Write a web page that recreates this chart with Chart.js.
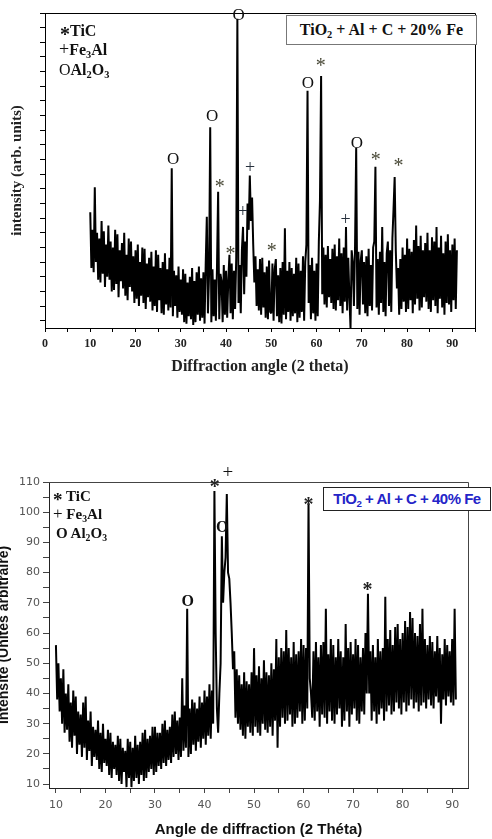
<!DOCTYPE html>
<html><head><meta charset="utf-8">
<script src="https://cdn.jsdelivr.net/npm/chart.js"></script>
<style>
html,body{margin:0;padding:0;background:#fff;}
body{width:492px;height:839px;position:relative;overflow:hidden;}
canvas{position:absolute;left:0;}
#c1{top:0;}
#c2{top:380px;}
.serif{position:absolute;font-family:"Liberation Serif","Times New Roman",serif;font-weight:bold;color:#111;white-space:nowrap;}
.box1{position:absolute;left:286px;top:15px;width:189px;height:28px;border:1px solid #777;background:#fff;
  font-family:"Liberation Serif","Times New Roman",serif;font-weight:bold;font-size:16px;line-height:28px;text-align:center;color:#111;white-space:nowrap;}
.box2{position:absolute;left:323px;top:487px;width:166px;height:22px;border:1px solid #222;background:#fff;
  font-family:"Liberation Sans",Arial,sans-serif;font-weight:bold;font-size:15px;line-height:22px;text-align:center;color:#2424c8;letter-spacing:-0.5px;white-space:nowrap;}
sub{font-size:65%;vertical-align:-0.3em;line-height:0;}
.sym{display:inline-block;}
</style></head>
<body>
<canvas id="c1" width="492" height="380"></canvas>
<canvas id="c2" width="492" height="459"></canvas>

<div class="serif" style="left:60px;top:19px;font-size:16px;line-height:20px;"><span class="sym" style="font-size:20px;position:relative;top:5px;">*</span>TiC</div>
<div class="serif" style="left:59px;top:39px;font-size:16px;line-height:20px;"><span class="sym" style="font-weight:normal;font-size:18px;">+</span>Fe<sub>3</sub>Al</div>
<div class="serif" style="left:59px;top:60px;font-size:16px;line-height:20px;"><span class="sym" style="font-weight:normal;">O</span>Al<sub>2</sub>O<sub>3</sub></div>
<div class="box1">TiO<sub>2</sub> + Al + C + 20% Fe</div>

<div class="serif" style="left:53px;top:486px;font-size:15px;line-height:18px;"><span class="sym" style="font-size:19px;position:relative;top:5px;">*</span> TiC</div>
<div class="serif" style="left:53px;top:505px;font-size:15px;line-height:18px;"><span class="sym" style="font-weight:normal;font-size:17px;">+</span> Fe<sub>3</sub>Al</div>
<div class="serif" style="left:56px;top:524px;font-size:15px;line-height:18px;">O Al<sub>2</sub>O<sub>3</sub></div>
<div class="box2">TiO<sub>2</sub> + Al + C + 40% Fe</div>

<script>
// ---------- DATA ----------
const angleStep = 0.25;              // degrees between recorded points (2 theta)
const topAngleStart = 10;            // first angle of the 20% Fe pattern
const botAngleStart = 10;            // first angle of the 40% Fe pattern

// 20% Fe pattern, intensity (arb. units), one row per degree (4 points)
const topIntensity = [
 84,46,72,43,  101,50,70,38,  66,36,78,42,  71,33,62,40,  75,38,64,30,
 60,31,72,35,  69,26,58,37,   63,32,70,27,  55,24,66,33,  64,30,54,22,
 58,25,62,20,  50,27,60,22,   59,18,49,26,  53,23,57,17,  47,20,58,16,
 55,24,46,15,  50,14,56,21,   45,17,53,19,  114,13,44,20, 41,12,47,16,
 38,14,45,9,   42,8,36,13,    40,11,46,7,   37,9,43,14,   47,10,39,12,
 43,8,48,81,   15,42,142,9,   45,13,38,10,  47,98,11,42,  37,9,48,14,
 44,12,38,55,  15,49,11,44,   18,53,216,22, 48,15,58,74,  28,64,40,90,
 72,109,78,94, 62,36,54,20,   45,17,52,14,  53,19,43,12,  47,11,51,16,
 15,49,10,45,  52,13,41,9,    46,8,50,14,   73,11,44,16,  50,10,46,13,
 42,15,53,9,   49,12,44,16,   54,10,50,62,  167,22,48,11, 53,15,44,10,
 49,13,64,92,  177,28,60,21,  55,19,61,26,  52,22,59,18,  62,17,54,24,
 66,20,56,15,  60,23,74,17,   53,26,5,58,   50,20,61,128, 18,57,14,51,
 58,21,50,15,  54,13,59,20,   48,17,60,64,  115,19,52,14, 57,22,74,16,
 50,13,56,64,  20,58,16,66,   86,108,58,32, 46,14,52,18,  60,23,55,16,
 66,18,59,24,  57,15,65,21,   75,25,61,17,  68,19,58,26,  63,23,70,18,
 58,16,67,24,  64,20,74,15,   60,25,68,19,  56,14,64,22,  69,21,58,16,
 62,24,66,18,  58
];

// 40% Fe pattern, intensity (unites arbitraires), one row per degree (4 points)
const botIntensity = [
 56,38,50,34,  45,30,48,27,  40,28,43,24,  37,22,41,26,  39,20,34,23,
 33,19,37,22,  39,18,31,21,  34,16,29,19,  28,18,31,15,  27,14,30,17,
 25,16,28,13,  27,12,24,15,  23,13,26,11,  25,10,22,14,  21,9,25,12,
 24,9,22,11,   26,12,23,10,  24,13,27,11,  28,12,25,14,  26,15,29,13,
 29,14,27,16,  27,15,30,17,  31,16,28,18,  29,17,33,19,  34,20,31,18,
 32,19,45,21,  36,22,68,19,  35,20,38,23,  37,21,35,24,  39,22,37,25,
 41,23,39,26,  43,25,41,30,  107,60,35,27, 40,50,92,70,  80,85,106,80,
 78,70,60,48,  54,32,48,30,  46,28,43,26,  47,25,44,29,  43,27,47,26,
 55,29,46,27,  49,26,45,30,  51,28,47,27,  46,29,50,26,  48,31,58,22,
 52,29,55,32,  54,30,61,31,  55,33,52,29,  57,30,53,32,  54,34,58,30,
 56,31,55,35,  103,45,40,32, 54,31,57,34,  52,29,56,33,  57,32,68,30,
 53,34,58,31,  56,30,52,33,  58,35,54,29,  52,31,63,34,  55,29,57,33,
 53,35,58,31,  56,30,52,34,  55,33,60,40,  73,40,54,31,  56,34,52,30,
 58,33,54,35,  55,31,72,34,  58,36,61,33,  56,34,62,37,  63,35,58,33,
 60,37,64,34,  62,36,67,38,  65,35,60,37,  59,34,63,36,  68,37,58,35,
 56,38,59,36,  57,35,54,39,  59,37,55,30,  53,38,58,36,  56,39,54,37,
 58,36,68,38
];

// x tick labels
const topXTicks = [0,10,20,30,40,50,60,70,80,90];
const botXTicks = [10,20,30,40,50,60,70,80,90];
const botYTicks = [10,20,30,40,50,60,70,80,90,100,110];

// phase markers: angle, level (where the symbol sits), symbol
const topMarkAngles = [28.3, 36.9, 38.6, 41.0, 42.8, 43.7, 45.3, 50.1, 58.1, 60.9, 66.4, 68.9, 73.1, 78.1];
const topMarkLevels = [119.7, 149, 103.3, 57.6, 218, 84, 114, 59.6, 172, 186, 78.7, 131, 122, 117.6];
const topMarkSyms   = ['O','O','*','*','O','+','+','*','O','*','+','O','*','*'];

const botMarkAngles = [36.6, 42.06, 43.6, 44.7, 61.0, 72.9];
const botMarkLevels = [70.3, 109.3, 94.8, 113, 103.4, 75.2];
const botMarkSyms   = ['O','*','O','+','*','*'];

// ---------- CHARTS ----------
function toPoints(start, vals){ return vals.map((v,i)=>({x:start + i*angleStep, y:v})); }

const framePlugin = {
  id:'frame',
  afterDraw(chart, args, opts){
    const {ctx, chartArea:a} = chart;
    ctx.save();
    ctx.strokeStyle = opts.color || '#000';
    ctx.lineWidth = 1;
    ctx.beginPath();
    ctx.moveTo(a.left, a.top+0.5); ctx.lineTo(a.right+0.5, a.top+0.5);
    ctx.lineTo(a.right+0.5, a.bottom);
    ctx.stroke();
    ctx.restore();
  }
};
const markPlugin = {
  id:'peakMarks',
  afterDraw(chart, args, opts){
    const {ctx} = chart;
    const xs = chart.scales.x, ys = chart.scales.y;
    ctx.save();
    ctx.textAlign = 'center';
    ctx.textBaseline = 'middle';
    opts.angles.forEach((ang,i)=>{
      const s = opts.syms[i];
      const st = opts.styles[s];
      ctx.font = st.font;
      ctx.fillStyle = st.color;
      ctx.fillText(s, xs.getPixelForValue(ang), ys.getPixelForValue(opts.levels[i]) + st.dy);
    });
    ctx.restore();
  }
};

const serif = '"Liberation Serif","Times New Roman",serif';
const sans = '"Liberation Sans",Arial,sans-serif';

new Chart(document.getElementById('c1'), {
  type:'line',
  data:{datasets:[{data:toPoints(topAngleStart, topIntensity), borderColor:'#000', borderWidth:2, borderJoinStyle:'bevel', pointRadius:0, tension:0, fill:false}]},
  options:{
    responsive:false, animation:false, devicePixelRatio:1, parsing:false,
    layout:{padding:{left:0, top:13, right:17, bottom:0}},
    plugins:{legend:{display:false}, tooltip:{enabled:false},
      frame:{color:'#000'},
      peakMarks:{angles:topMarkAngles, levels:topMarkLevels, syms:topMarkSyms,
        styles:{'O':{font:'17px '+serif, color:'#111', dy:0},
                '*':{font:'20px '+serif, color:'#4a4a38', dy:4},
                '+':{font:'18px '+serif, color:'#26303c', dy:0}}}},
    scales:{
      x:{type:'linear', min:0, max:95,
        afterFit(s){ s.height = 52; },
        border:{color:'#000', width:1},
        grid:{drawOnChartArea:false, drawTicks:true, tickLength:4, color:'#000'},
        ticks:{stepSize:5, autoSkip:false, maxRotation:0, padding:5, color:'#222',
          font:{family:serif, weight:'bold', size:12},
          callback:v=> topXTicks.includes(v) ? String(v) : ''},
        title:{display:true, text:'Diffraction angle (2 theta)', color:'#222',
          font:{family:serif, weight:'bold', size:16, lineHeight:1.2}, padding:{top:0,bottom:4}}},
      y:{type:'linear', min:5, max:220,
        afterFit(s){ s.width = 45; },
        border:{color:'#000', width:1},
        grid:{drawOnChartArea:false, drawTicks:true, tickLength:5, color:'#000'},
        ticks:{stepSize:10, includeBounds:false, autoSkip:false, padding:0, callback:()=>''},
        title:{display:true, text:'intensity (arb. units)', color:'#222',
          font:{family:serif, weight:'bold', size:15, lineHeight:1.2}, padding:{top:8,bottom:0}}}
    }
  },
  plugins:[framePlugin, markPlugin]
});

new Chart(document.getElementById('c2'), {
  type:'line',
  data:{datasets:[{data:toPoints(botAngleStart, botIntensity), borderColor:'#000', borderWidth:2, borderJoinStyle:'bevel', pointRadius:0, tension:0, fill:false}]},
  options:{
    responsive:false, animation:false, devicePixelRatio:1, parsing:false,
    layout:{padding:{left:0, top:102, right:24, bottom:0}},
    plugins:{legend:{display:false}, tooltip:{enabled:false},
      frame:{color:'#444'},
      peakMarks:{angles:botMarkAngles, levels:botMarkLevels, syms:botMarkSyms,
        styles:{'O':{font:'bold 16px '+serif, color:'#111', dy:0},
                '*':{font:'bold 20px '+serif, color:'#222', dy:4},
                '+':{font:'19px '+serif, color:'#111', dy:0}}}},
    scales:{
      x:{type:'linear', min:8.6, max:93.2,
        afterFit(s){ s.height = 51; },
        border:{color:'#222', width:1},
        grid:{drawOnChartArea:false, drawTicks:true, tickLength:5, color:'#444'},
        ticks:{stepSize:5, includeBounds:false, autoSkip:false, maxRotation:0, padding:6, color:'#555',
          font:{family:'"DejaVu Sans",sans-serif', size:11},
          callback:v=> botXTicks.includes(v) ? String(v) : ''},
        title:{display:true, text:'Angle de diffraction (2 Théta)', color:'#111',
          font:{family:sans, weight:'bold', size:15, lineHeight:1.2}, padding:{top:0,bottom:0}}},
      y:{type:'linear', min:8.7, max:110,
        afterFit(s){ s.width = 49; },
        border:{color:'#222', width:1},
        grid:{drawOnChartArea:false, drawTicks:true, tickLength:6, color:'#444'},
        ticks:{stepSize:5, includeBounds:false, autoSkip:false, padding:3, color:'#555',
          font:{family:'"DejaVu Sans",sans-serif', size:11},
          callback:v=> botYTicks.includes(v) ? String(v) : ''},
        title:{display:true, text:'Intensité (Unités arbitraire)', color:'#111',
          font:{family:sans, weight:'bold', size:14, lineHeight:0.6}, padding:{top:0,bottom:0}}}
    }
  },
  plugins:[framePlugin, markPlugin]
});
</script>
</body></html>
